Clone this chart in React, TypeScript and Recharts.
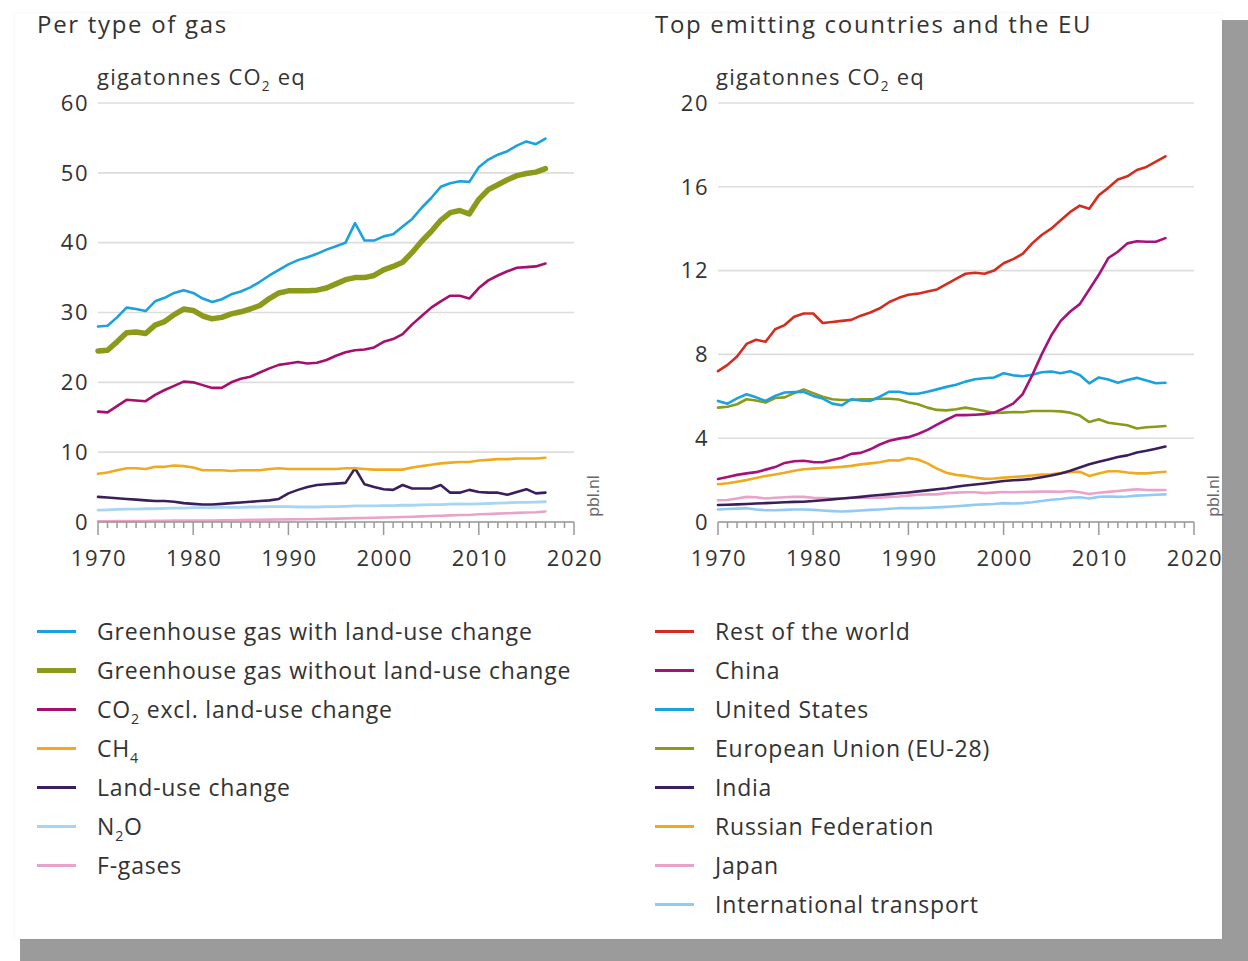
import React from 'react';
import { LineChart, Line, XAxis, YAxis, CartesianGrid } from 'recharts';

const years = [1970,1971,1972,1973,1974,1975,1976,1977,1978,1979,1980,1981,1982,1983,1984,1985,1986,1987,1988,1989,1990,1991,1992,1993,1994,1995,1996,1997,1998,1999,2000,2001,2002,2003,2004,2005,2006,2007,2008,2009,2010,2011,2012,2013,2014,2015,2016,2017];
const xTicks = [1970,1971,1972,1973,1974,1975,1976,1977,1978,1979,1980,1981,1982,1983,1984,1985,1986,1987,1988,1989,1990,1991,1992,1993,1994,1995,1996,1997,1998,1999,2000,2001,2002,2003,2004,2005,2006,2007,2008,2009,2010,2011,2012,2013,2014,2015,2016,2017,2018,2019,2020];
const leftYTicks = [0,10,20,30,40,50,60];
const rightYTicks = [0,4,8,12,16,20];

// Left: per type of gas (Gt CO2 eq)
const ghgWithLuc = [28.0,28.1,29.3,30.7,30.5,30.2,31.6,32.1,32.8,33.2,32.8,32.0,31.5,31.9,32.6,33.0,33.6,34.4,35.3,36.1,36.9,37.5,37.9,38.4,39.0,39.5,40.0,42.8,40.3,40.3,40.9,41.2,42.3,43.4,45.0,46.4,48.0,48.5,48.8,48.7,50.8,51.9,52.6,53.1,53.9,54.5,54.1,54.9];
const ghgWithoutLuc = [24.5,24.6,25.8,27.1,27.2,27.0,28.2,28.7,29.7,30.5,30.3,29.5,29.1,29.3,29.8,30.1,30.5,31.0,32.0,32.8,33.1,33.1,33.1,33.2,33.5,34.1,34.7,35.0,35.0,35.3,36.1,36.6,37.2,38.6,40.2,41.6,43.2,44.3,44.6,44.1,46.2,47.6,48.3,49.0,49.6,49.9,50.1,50.6];
const co2ExclLuc = [15.8,15.7,16.6,17.5,17.4,17.3,18.2,18.9,19.5,20.1,20.0,19.6,19.2,19.2,20.0,20.5,20.8,21.4,22.0,22.5,22.7,22.9,22.7,22.8,23.2,23.8,24.3,24.6,24.7,25.0,25.8,26.2,26.9,28.3,29.5,30.7,31.6,32.4,32.4,32.0,33.5,34.6,35.3,35.9,36.4,36.5,36.6,37.0];
const ch4 = [6.9,7.1,7.4,7.7,7.7,7.6,7.9,7.9,8.1,8.0,7.8,7.4,7.4,7.4,7.3,7.4,7.4,7.4,7.6,7.7,7.6,7.6,7.6,7.6,7.6,7.6,7.7,7.7,7.6,7.5,7.5,7.5,7.5,7.8,8.0,8.2,8.4,8.5,8.6,8.6,8.8,8.9,9.0,9.0,9.1,9.1,9.1,9.2];
const landUseChange = [3.6,3.5,3.4,3.3,3.2,3.1,3.0,3.0,2.9,2.7,2.6,2.5,2.5,2.6,2.7,2.8,2.9,3.0,3.1,3.3,4.1,4.6,5.0,5.3,5.4,5.5,5.6,7.7,5.4,5.0,4.7,4.6,5.3,4.8,4.8,4.8,5.3,4.2,4.2,4.6,4.3,4.2,4.2,3.9,4.3,4.7,4.1,4.2];
const n2o = [1.7,1.75,1.8,1.85,1.85,1.9,1.9,1.95,2.0,2.0,2.05,2.05,2.05,2.1,2.1,2.1,2.15,2.15,2.2,2.2,2.2,2.15,2.15,2.15,2.2,2.2,2.25,2.3,2.3,2.3,2.35,2.35,2.4,2.4,2.45,2.5,2.5,2.55,2.6,2.55,2.6,2.65,2.7,2.75,2.8,2.8,2.85,2.9];
const fGases = [0.1,0.1,0.12,0.14,0.15,0.15,0.17,0.18,0.2,0.2,0.22,0.22,0.22,0.24,0.26,0.28,0.3,0.32,0.34,0.36,0.38,0.4,0.4,0.42,0.45,0.48,0.52,0.55,0.58,0.6,0.65,0.68,0.72,0.76,0.8,0.85,0.9,0.95,1.0,1.0,1.1,1.15,1.2,1.25,1.3,1.35,1.4,1.5];

// Right: top emitting countries (Gt CO2 eq)
const restOfWorld = [7.2,7.5,7.9,8.5,8.7,8.6,9.2,9.4,9.8,9.95,9.95,9.5,9.55,9.6,9.65,9.85,10.0,10.2,10.5,10.7,10.85,10.9,11.0,11.1,11.35,11.6,11.85,11.9,11.85,12.0,12.35,12.55,12.8,13.3,13.7,14.0,14.4,14.8,15.1,14.95,15.6,15.95,16.35,16.5,16.8,16.95,17.2,17.45];
const china = [2.05,2.15,2.25,2.32,2.38,2.5,2.62,2.82,2.9,2.92,2.86,2.85,2.96,3.07,3.25,3.3,3.47,3.7,3.88,3.98,4.05,4.2,4.4,4.65,4.88,5.1,5.1,5.12,5.15,5.22,5.42,5.65,6.1,7.0,8.0,8.9,9.6,10.05,10.4,11.1,11.8,12.6,12.9,13.3,13.4,13.38,13.38,13.55];
const unitedStates = [5.78,5.65,5.9,6.1,5.95,5.78,6.02,6.18,6.2,6.21,6.02,5.89,5.65,5.57,5.86,5.8,5.78,5.98,6.22,6.22,6.12,6.12,6.22,6.33,6.45,6.55,6.7,6.81,6.86,6.9,7.1,7.0,6.96,7.03,7.15,7.18,7.1,7.2,7.02,6.62,6.9,6.8,6.65,6.78,6.88,6.75,6.62,6.65];
const europeanUnion = [5.46,5.5,5.62,5.86,5.8,5.7,5.92,5.95,6.15,6.33,6.15,5.98,5.86,5.82,5.82,5.86,5.86,5.88,5.88,5.85,5.72,5.62,5.46,5.35,5.33,5.38,5.46,5.38,5.3,5.2,5.22,5.25,5.24,5.3,5.3,5.3,5.28,5.22,5.08,4.77,4.9,4.74,4.68,4.62,4.46,4.52,4.55,4.58];
const india = [0.81,0.82,0.84,0.86,0.88,0.9,0.92,0.94,0.96,0.97,1.0,1.04,1.08,1.12,1.16,1.2,1.25,1.29,1.33,1.37,1.41,1.46,1.51,1.56,1.61,1.68,1.74,1.79,1.84,1.9,1.96,1.99,2.02,2.06,2.14,2.22,2.32,2.45,2.6,2.76,2.88,2.98,3.1,3.18,3.32,3.4,3.5,3.6];
const russia = [1.8,1.85,1.92,2.0,2.1,2.2,2.27,2.35,2.45,2.52,2.55,2.58,2.6,2.63,2.68,2.75,2.8,2.85,2.95,2.93,3.05,2.98,2.8,2.55,2.35,2.25,2.2,2.12,2.06,2.08,2.12,2.15,2.18,2.22,2.26,2.28,2.34,2.38,2.4,2.2,2.32,2.42,2.42,2.36,2.32,2.32,2.36,2.4];
const japan = [1.04,1.05,1.12,1.2,1.18,1.12,1.16,1.18,1.2,1.2,1.16,1.14,1.12,1.12,1.16,1.16,1.16,1.16,1.2,1.22,1.26,1.3,1.32,1.32,1.38,1.4,1.42,1.42,1.38,1.4,1.43,1.42,1.43,1.44,1.45,1.45,1.44,1.48,1.42,1.34,1.4,1.44,1.48,1.52,1.56,1.53,1.52,1.53];
const intlTransport = [0.6,0.62,0.64,0.66,0.6,0.56,0.56,0.58,0.6,0.6,0.58,0.55,0.52,0.5,0.52,0.55,0.58,0.6,0.63,0.66,0.66,0.66,0.68,0.7,0.72,0.75,0.78,0.82,0.84,0.86,0.9,0.88,0.9,0.94,1.0,1.06,1.1,1.16,1.18,1.12,1.2,1.22,1.2,1.22,1.26,1.28,1.3,1.32];

const FONT = '"Open Sans", "Noto Sans", sans-serif';
const TEXT = '#333333';

const leftSeries = [
  { key: 'ghgWithLuc', label: ['Greenhouse gas with land-use change'], color: '#1aa1de', width: 2.6, values: ghgWithLuc },
  { key: 'ghgWithoutLuc', label: ['Greenhouse gas without land-use change'], color: '#8c9a1c', width: 5.5, values: ghgWithoutLuc },
  { key: 'co2', label: ['CO', '2', ' excl. land-use change'], color: '#a6106c', width: 2.6, values: co2ExclLuc },
  { key: 'ch4', label: ['CH', '4', ''], color: '#f0aa1e', width: 2.6, values: ch4 },
  { key: 'luc', label: ['Land-use change'], color: '#3b1f5c', width: 2.6, values: landUseChange },
  { key: 'n2o', label: ['N', '2', 'O'], color: '#a8d5f2', width: 2.8, values: n2o },
  { key: 'fgas', label: ['F-gases'], color: '#e9a3c9', width: 2.6, values: fGases },
];

const rightSeries = [
  { key: 'row', label: ['Rest of the world'], color: '#d42d20', width: 2.6, values: restOfWorld },
  { key: 'china', label: ['China'], color: '#a5127a', width: 2.6, values: china },
  { key: 'us', label: ['United States'], color: '#1aa1de', width: 2.6, values: unitedStates },
  { key: 'eu', label: ['European Union (EU-28)'], color: '#8c9a1c', width: 2.6, values: europeanUnion },
  { key: 'india', label: ['India'], color: '#3b1f5c', width: 2.6, values: india },
  { key: 'russia', label: ['Russian Federation'], color: '#f0aa1e', width: 2.6, values: russia },
  { key: 'japan', label: ['Japan'], color: '#e9a3c9', width: 2.6, values: japan },
  { key: 'intl', label: ['International transport'], color: '#8fcbf2', width: 2.6, values: intlTransport },
];

const buildData = (series: any[]) =>
  years.map((y, i) => {
    const row: any = { year: y };
    series.forEach((s) => { row[s.key] = s.values[i]; });
    return row;
  });

const leftData = buildData(leftSeries);
const rightData = buildData(rightSeries);

const Sub = ({ children }: any) => (
  <span style={{ fontSize: '0.62em', position: 'relative', top: '0.45em' }}>{children}</span>
);

const Label = ({ parts }: { parts: string[] }) => (
  <>
    {parts[0]}
    {parts.length > 1 && <Sub>{parts[1]}</Sub>}
    {parts.length > 2 && parts[2]}
  </>
);

const XTick = (props: any) => {
  const { x, y, payload } = props;
  const major = payload.value % 10 === 0;
  return (
    <g>
      <line x1={x} x2={x} y1={y} y2={y + (major ? 13 : 6)} stroke="#9a9a9a" strokeWidth={1.5} />
      {major && (
        <text x={x + 1} y={y + 44} textAnchor="middle" fill={TEXT} fontSize={22} fontFamily={FONT}
          letterSpacing={1.5}>
          {payload.value}
        </text>
      )}
    </g>
  );
};

const CHART_W = 620;
const CHART_H = 600;
const MARGIN = { top: 103, right: 46, bottom: 28, left: 38 };

const Panel = ({ data, series, ticks, domainMax }: any) => (
  <LineChart width={CHART_W} height={CHART_H} data={data} margin={MARGIN}>
    <CartesianGrid horizontal vertical={false} stroke="#dddddd" strokeWidth={1.6} />
    <XAxis
      dataKey="year"
      type="number"
      domain={[1970, 2020]}
      ticks={xTicks}
      interval={0}
      height={50}
      tickSize={0}
      tickMargin={0}
      tickLine={false}
      axisLine={{ stroke: '#9a9a9a', strokeWidth: 1.5 }}
      tick={<XTick />}
    />
    <YAxis
      type="number"
      domain={[0, domainMax]}
      ticks={ticks}
      interval={0}
      width={60}
      axisLine={false}
      tickLine={false}
      tickSize={0}
      tickMargin={9}
      tick={{ fill: TEXT, fontSize: 22, fontFamily: FONT, letterSpacing: 1.5 }}
    />
    {[...series].reverse().map((s: any) => (
      <Line
        key={s.key}
        type="linear"
        dataKey={s.key}
        stroke={s.color}
        strokeWidth={s.width}
        dot={false}
        activeDot={false}
        strokeLinejoin="round"
        strokeLinecap="round"
        isAnimationActive={false}
      />
    ))}
  </LineChart>
);

const Legend = ({ series, left, top }: any) => (
  <div style={{ position: 'absolute', left, top }}>
    {series.map((s: any, i: number) => (
      <div key={s.key} style={{ position: 'absolute', left: 0, top: i * 39, width: 580, height: 30 }}>
        <div style={{ position: 'absolute', left: 0, top: s.width > 4 ? 12.5 : 13.5, width: 39, height: s.width > 4 ? 5 : 3, background: s.color }} />
        <div style={{ position: 'absolute', left: 60, top: 0, lineHeight: '30px', fontSize: 23, letterSpacing: '0.8px', color: TEXT, whiteSpace: 'nowrap' }}>
          <Label parts={s.label} />
        </div>
      </div>
    ))}
  </div>
);

const Pbl = ({ cx, cy }: any) => (
  <div style={{ position: 'absolute', left: cx, top: cy, transform: 'translate(-50%, -50%) rotate(-90deg)', fontSize: 16, color: '#666', whiteSpace: 'nowrap', lineHeight: '16px' }}>
    pbl.nl
  </div>
);

const titleStyle: any = { position: 'absolute', top: 9, fontSize: 24, letterSpacing: '1.7px', lineHeight: '30px', color: TEXT, whiteSpace: 'nowrap' };
const unitStyle: any = { position: 'absolute', top: 61, fontSize: 22, letterSpacing: '1.2px', lineHeight: '30px', color: TEXT, whiteSpace: 'nowrap' };

export default function App() {
  return (
    <div style={{ position: 'absolute', left: 0, top: 0, width: 1248, height: 961, background: '#ffffff', overflow: 'hidden', fontFamily: FONT }}>
      <div style={{ position: 'absolute', left: 1222, top: 20, width: 26, height: 941, background: '#9b9b9b' }} />
      <div style={{ position: 'absolute', left: 20, top: 939, width: 1228, height: 22, background: '#9b9b9b' }} />
      <div style={{ position: 'absolute', left: 15, top: 13, width: 1207, height: 926, background: '#ffffff', boxShadow: '0 0 2px rgba(0,0,0,0.08)' }} />

      <div style={{ ...titleStyle, left: 37 }}>Per type of gas</div>
      <div style={{ ...titleStyle, left: 655 }}>Top emitting countries and the EU</div>
      <div style={{ ...unitStyle, left: 97 }}>
        gigatonnes CO<Sub>2</Sub> eq
      </div>
      <div style={{ ...unitStyle, left: 716 }}>
        gigatonnes CO<Sub>2</Sub> eq
      </div>

      <div style={{ position: 'absolute', left: 0, top: 0 }}>
        <Panel data={leftData} series={leftSeries} ticks={leftYTicks} domainMax={60} />
      </div>
      <div style={{ position: 'absolute', left: 620, top: 0 }}>
        <Panel data={rightData} series={rightSeries} ticks={rightYTicks} domainMax={20} />
      </div>

      <Pbl cx={593} cy={496} />
      <Pbl cx={1213} cy={496} />

      <Legend series={leftSeries} left={37} top={616} />
      <Legend series={rightSeries} left={655} top={616} />
    </div>
  );
}
